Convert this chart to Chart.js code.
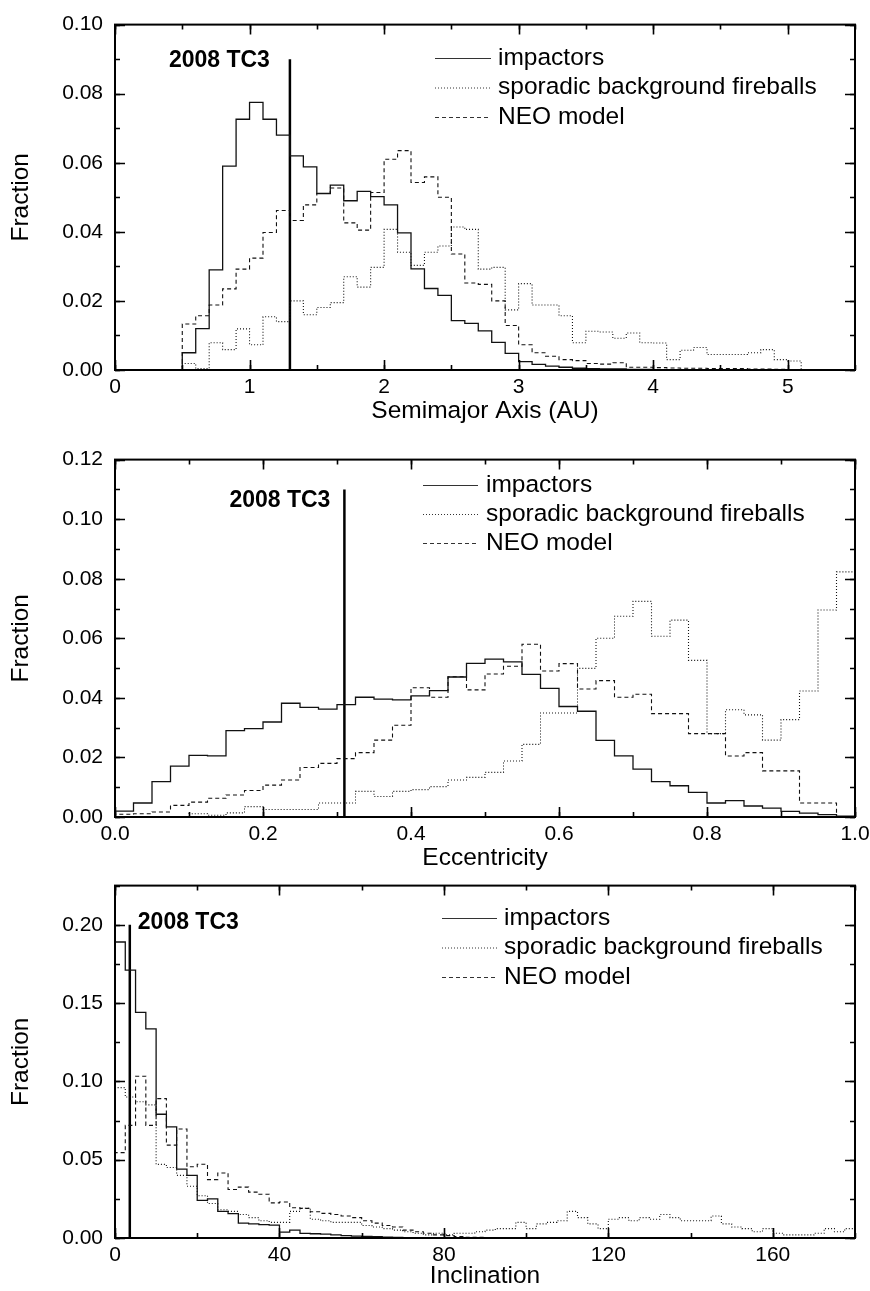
<!DOCTYPE html>
<html>
<head>
<meta charset="utf-8">
<script src="https://cdn.jsdelivr.net/npm/chart.js@4"></script>
<style>
  body { margin: 0; background: #fff; }
  #wrap { position: relative; width: 870px; height: 1291px; overflow: hidden; }
  canvas { position: absolute; left: 0; }
</style>
</head>
<body>
<div id="wrap">
  <canvas id="semimajor" width="870" height="430" style="top:0px"></canvas>
  <canvas id="eccentricity" width="870" height="442" style="top:435px"></canvas>
  <canvas id="inclination" width="870" height="430" style="top:861px"></canvas>
</div>
<script>
const seriesNames = ['impactors', 'sporadic background fireballs', 'NEO model'];
const markerName = '2008 TC3';

// semimajor axis, 0.1 AU bins
const aBin = 0.1;
const aImpactorsStart = 0.5;
const aImpactors = [0.005, 0.012, 0.029, 0.059, 0.0726, 0.0775, 0.0726, 0.068, 0.062, 0.0588,
  0.0511, 0.0535, 0.049, 0.0517, 0.0502, 0.0478, 0.0397, 0.0293, 0.0236, 0.0216,
  0.0143, 0.0135, 0.0113, 0.008, 0.0048, 0.0024, 0.0016, 0.0011, 0.0008, 0.0005,
  0.0004, 0.0003, 0.0003, 0.0002, 0.0002, 0.0001, 0.0001, 0.0001];
const aSporadicStart = 0.5;
const aSporadic = [0.0019, 0.0004, 0.0079, 0.0059, 0.0119, 0.0073, 0.0154, 0.014, 0.020, 0.016,
  0.0181, 0.0195, 0.027, 0.024, 0.0297, 0.0407, 0.0341, 0.0303, 0.0341, 0.0359,
  0.0414, 0.0407, 0.0292, 0.0297, 0.0174, 0.025, 0.0188, 0.0188, 0.0157, 0.0079,
  0.0112, 0.011, 0.0092, 0.0107, 0.0079, 0.0078, 0.003, 0.0057, 0.0065, 0.0045,
  0.0045, 0.0045, 0.005, 0.0059, 0.003, 0.0026];
const aNeoStart = 0.5;
const aNeo = [0.0133, 0.0157, 0.0188, 0.0235, 0.0292, 0.0324, 0.0398, 0.0462, 0.0433, 0.0478,
  0.0511, 0.0527, 0.0426, 0.0405, 0.0514, 0.061, 0.0635, 0.0543, 0.0559, 0.05,
  0.0336, 0.0252, 0.0248, 0.02, 0.0129, 0.0073, 0.005, 0.004, 0.003, 0.0027,
  0.0019, 0.0017, 0.0021, 0.0008, 0.0008, 0.0007, 0.0006, 0.0005, 0.0005, 0.0004,
  0.0004, 0.0004, 0.0003, 0.0003, 0.0002];
const aTc3 = 1.3;
const aTc3Top = 0.09;

// eccentricity, 0.025 bins
const eBin = 0.025;
const eImpactorsStart = 0;
const eImpactors = [0.002, 0.0047, 0.0119, 0.0171, 0.0207, 0.0205, 0.029, 0.0297, 0.0319, 0.0382,
  0.0368, 0.0362, 0.0377, 0.0402, 0.0396, 0.0393, 0.0407, 0.0424, 0.047, 0.0516,
  0.053, 0.0521, 0.0479, 0.0432, 0.0371, 0.0355, 0.0257, 0.0205, 0.0161, 0.0119,
  0.0105, 0.0083, 0.0047, 0.0055, 0.0037, 0.003, 0.0019, 0.0013, 0.0008, 0.0003];
const eSporadicStart = 0.1;
const eSporadic = [0.0011, 0.0006, 0.0014, 0.0035, 0.0025, 0.0025, 0.0025, 0.0047, 0.0047, 0.0086,
  0.0069, 0.0086, 0.0092, 0.0102, 0.0124, 0.0133, 0.015, 0.0188, 0.0244, 0.0349,
  0.0349, 0.0499, 0.06, 0.0674, 0.0724, 0.0607, 0.0661, 0.0526, 0.028, 0.036,
  0.0343, 0.0258, 0.0327, 0.0423, 0.0695, 0.0823];
const eNeoStart = 0;
const eNeo = [0.0009, 0.0011, 0.0017, 0.0039, 0.005, 0.0063, 0.0074, 0.0089, 0.0107, 0.0124,
  0.0166, 0.018, 0.0196, 0.0216, 0.0258, 0.0308, 0.0434, 0.0402, 0.0471, 0.0427,
  0.048, 0.0506, 0.058, 0.049, 0.0515, 0.043, 0.0458, 0.0402, 0.0412, 0.0347,
  0.0347, 0.028, 0.028, 0.0205, 0.0216, 0.0155, 0.0155, 0.0047, 0.0047];
const eTc3 = 0.31;
const eTc3Top = 0.11;

// inclination, 2.5 degree bins
const iBin = 2.5;
const iImpactorsStart = 0;
const iImpactors = [0.189, 0.171, 0.144, 0.1335, 0.079, 0.071, 0.044, 0.040, 0.024, 0.025,
  0.017, 0.0155, 0.0095, 0.009, 0.0085, 0.0082, 0.0038, 0.005, 0.003, 0.0027,
  0.0025, 0.002, 0.0015, 0.0012, 0.001, 0.0008, 0.0006, 0.0004, 0.0003, 0.0002,
  0.0001];
const iSporadicStart = 0;
const iSporadic = [0.096, 0.090, 0.087, 0.085, 0.047, 0.045, 0.040, 0.033, 0.027, 0.022,
  0.018, 0.017, 0.015, 0.013, 0.011, 0.010, 0.010, 0.017, 0.019, 0.012,
  0.011, 0.010, 0.010, 0.010, 0.008, 0.007, 0.006, 0.005, 0.004, 0.003,
  0.002, 0.003, 0.002, 0.003, 0.003, 0.004, 0.005, 0.006, 0.006, 0.010,
  0.006, 0.009, 0.010, 0.011, 0.017, 0.013, 0.009, 0.006, 0.012, 0.013,
  0.011, 0.013, 0.012, 0.015, 0.013, 0.011, 0.011, 0.011, 0.014, 0.009,
  0.007, 0.006, 0.004, 0.006, 0.003, 0.002, 0.002, 0.002, 0.003, 0.006,
  0.004, 0.006];
const iNeoStart = 0;
const iNeo = [0.0545, 0.0719, 0.1033, 0.0719, 0.089, 0.0593, 0.0696, 0.0455, 0.0471, 0.0373,
  0.0415, 0.031, 0.0325, 0.0293, 0.0279, 0.0224, 0.023, 0.0193, 0.0189, 0.0168,
  0.0157, 0.015, 0.014, 0.013, 0.011, 0.0095, 0.008, 0.007, 0.005, 0.004,
  0.003, 0.002, 0.0015, 0.001, 0.0005, 0.0005];
const iTc3 = 3.6;
const iTc3Top = 0.20;

const fontFamily = "'Liberation Sans', Arial, sans-serif";
const lineStyles = [
  { borderDash: [], borderWidth: 1.3 },
  { borderDash: [1, 2], borderWidth: 1.1 },
  { borderDash: [4, 3], borderWidth: 1.1 },
];

// outline of a histogram as step points: up from zero, across each bin, back down
function histPoints(start, width, values) {
  const pts = [{ x: start, y: 0 }];
  values.forEach((v, i) => pts.push({ x: start + i * width, y: v }));
  const end = start + values.length * width;
  pts.push({ x: end, y: values[values.length - 1] });
  pts.push({ x: end, y: 0 });
  return pts;
}

// box around the plot with inward major and minor ticks on all four sides
const frameTicks = {
  id: 'frameTicks',
  afterDatasetsDraw(chart, args, opts) {
    const { ctx, chartArea: a, scales: { x, y } } = chart;
    ctx.save();
    ctx.strokeStyle = '#000';
    ctx.lineWidth = 1.6;
    const ticks = (scale, step, len, horizontal) => {
      for (let v = scale.min; v <= scale.max + 1e-9; v += step) {
        const p = Math.round(scale.getPixelForValue(v)) + 0.5;
        ctx.beginPath();
        if (horizontal) {
          ctx.moveTo(p, a.bottom); ctx.lineTo(p, a.bottom - len);
          ctx.moveTo(p, a.top); ctx.lineTo(p, a.top + len);
        } else {
          ctx.moveTo(a.left, p); ctx.lineTo(a.left + len, p);
          ctx.moveTo(a.right, p); ctx.lineTo(a.right - len, p);
        }
        ctx.stroke();
      }
    };
    ticks(x, opts.xMinor, 5, true);
    ticks(x, opts.xMajor, 10, true);
    ticks(y, opts.yMinor, 5, false);
    ticks(y, opts.yMajor, 10, false);
    ctx.lineWidth = 2;
    ctx.strokeRect(a.left, a.top, a.right - a.left, a.bottom - a.top);
    ctx.restore();
  }
};

// legend rows inside the plot, drawn with each series' own line style
const seriesKey = {
  id: 'seriesKey',
  afterDatasetsDraw(chart, args, opts) {
    const { ctx } = chart;
    ctx.save();
    ctx.font = '24.5px ' + fontFamily;
    ctx.textBaseline = 'middle';
    ctx.fillStyle = '#000';
    seriesNames.forEach((name, i) => {
      const ds = chart.data.datasets[i];
      const yy = opts.y + i * opts.dy;
      ctx.strokeStyle = '#333';
      ctx.lineWidth = 1;
      ctx.setLineDash(ds.borderDash);
      ctx.beginPath();
      ctx.moveTo(opts.x0, yy + 0.5);
      ctx.lineTo(opts.x1, yy + 0.5);
      ctx.stroke();
      ctx.fillText(name, opts.tx, yy);
    });
    ctx.restore();
  }
};

// name tag next to the vertical marker line
const markerTag = {
  id: 'markerTag',
  afterDatasetsDraw(chart, args, opts) {
    const { ctx, scales: { x, y } } = chart;
    ctx.save();
    ctx.font = 'bold 23px ' + fontFamily;
    ctx.fillStyle = '#000';
    ctx.textBaseline = 'middle';
    ctx.textAlign = opts.align;
    ctx.fillText(markerName, x.getPixelForValue(opts.x) + opts.dx, y.getPixelForValue(opts.y));
    ctx.restore();
  }
};

function makePanel(id, p) {
  const sets = [
    histPoints(p.starts[0], p.bin, p.series[0]),
    histPoints(p.starts[1], p.bin, p.series[1]),
    histPoints(p.starts[2], p.bin, p.series[2]),
  ];
  const datasets = sets.map((pts, i) => ({
    label: seriesNames[i],
    data: pts,
    borderColor: '#111',
    borderWidth: lineStyles[i].borderWidth,
    borderDash: lineStyles[i].borderDash,
    stepped: true,
    pointRadius: 0,
    fill: false,
  }));
  datasets.push({
    label: markerName,
    data: [{ x: p.tc3, y: 0 }, { x: p.tc3, y: p.tc3Top }],
    borderColor: '#000',
    borderWidth: 2.5,
    borderDash: [],
    pointRadius: 0,
  });

  const tickFont = { family: fontFamily, size: 21 };
  const titleFont = { family: fontFamily, size: 24.5 };

  new Chart(document.getElementById(id), {
    type: 'line',
    data: { datasets },
    options: {
      responsive: false,
      animation: false,
      devicePixelRatio: 1,
      layout: { padding: { top: 20, right: 15, left: 0, bottom: 0 } },
      plugins: {
        legend: { display: false },
        tooltip: { enabled: false },
        frameTicks: p.ticks,
        seriesKey: p.key,
        markerTag: p.tag,
      },
      scales: {
        x: {
          type: 'linear',
          min: p.xMin, max: p.xMax,
          grid: { display: false, drawTicks: false },
          border: { display: false },
          ticks: {
            stepSize: p.ticks.xMajor, includeBounds: false, autoSkip: false, maxRotation: 0,
            padding: 5, color: '#000', font: tickFont,
            callback: v => v.toFixed(p.xDigits),
          },
          title: { display: true, text: p.xTitle, color: '#000', font: titleFont, padding: { top: 0, bottom: p.titlePad } },
          afterFit: s => {
            s.height = p.xAxisH;
            // end labels may hang past the frame; keep the plot width fixed
            s.paddingLeft = 0;
            s.paddingRight = 0;
          },
        },
        y: {
          type: 'linear',
          min: 0, max: p.yMax,
          grid: { display: false, drawTicks: false },
          border: { display: false },
          ticks: {
            stepSize: p.ticks.yMajor, includeBounds: false, autoSkip: false,
            padding: 12, color: '#000', font: tickFont,
            callback: v => v.toFixed(2),
          },
          title: { display: true, text: 'Fraction', color: '#000', font: titleFont, padding: { top: 7, bottom: 0 } },
          afterFit: s => { s.width = 115; },
        },
      },
    },
    plugins: [frameTicks, seriesKey, markerTag],
  });
}

makePanel('semimajor', {
  bin: aBin,
  starts: [aImpactorsStart, aSporadicStart, aNeoStart],
  series: [aImpactors, aSporadic, aNeo],
  tc3: aTc3, tc3Top: aTc3Top,
  xMin: 0, xMax: 5.5, yMax: 0.10, xDigits: 0,
  xTitle: 'Semimajor Axis (AU)', xAxisH: 60, titlePad: 4,
  ticks: { xMajor: 1, xMinor: 0.5, yMajor: 0.02, yMinor: 0.01 },
  key: { x0: 435, x1: 491, tx: 498, y: 58, dy: 29.5 },
  tag: { x: aTc3, y: 0.0895, dx: -20, align: 'right' },
});

makePanel('eccentricity', {
  bin: eBin,
  starts: [eImpactorsStart, eSporadicStart, eNeoStart],
  series: [eImpactors, eSporadic, eNeo],
  tc3: eTc3, tc3Top: eTc3Top,
  xMin: 0, xMax: 1, yMax: 0.12, xDigits: 1,
  xTitle: 'Eccentricity', xAxisH: 60, titlePad: 4,
  ticks: { xMajor: 0.2, xMinor: 0.1, yMajor: 0.02, yMinor: 0.01 },
  key: { x0: 423, x1: 478, tx: 486, y: 50, dy: 29 },
  tag: { x: eTc3, y: 0.1063, dx: -14, align: 'right' },
});

makePanel('inclination', {
  bin: iBin,
  starts: [iImpactorsStart, iSporadicStart, iNeoStart],
  series: [iImpactors, iSporadic, iNeo],
  tc3: iTc3, tc3Top: iTc3Top,
  xMin: 0, xMax: 180, yMax: 0.225, xDigits: 0,
  xTitle: 'Inclination', xAxisH: 53, titlePad: 0,
  ticks: { xMajor: 40, xMinor: 20, yMajor: 0.05, yMinor: 0.025 },
  key: { x0: 442, x1: 497, tx: 504, y: 57, dy: 29.5 },
  tag: { x: iTc3, y: 0.2013, dx: 8, align: 'left' },
});
</script>
</body>
</html>
